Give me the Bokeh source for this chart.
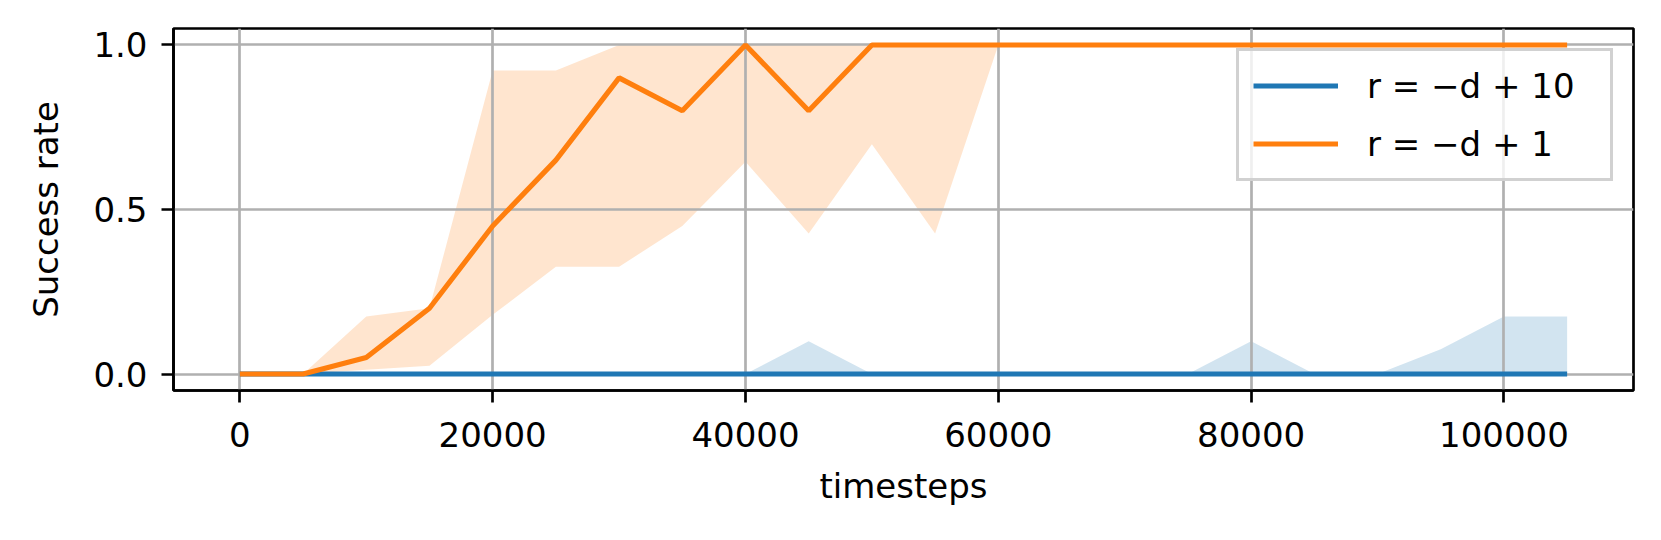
from bokeh.plotting import figure
from bokeh.models import ColumnDataSource, Legend, LegendItem, FixedTicker, Range1d, NumeralTickFormatter
from bokeh.embed import file_html
from bokeh.resources import INLINE

# ---- data ----
timesteps = [0, 5000, 10000, 15000, 20000, 25000, 30000, 35000, 40000, 45000, 50000,
             55000, 60000, 65000, 70000, 75000, 80000, 85000, 90000, 95000, 100000, 105000]

blue_mean = [0.0] * 22
blue_lower = [0.0] * 22
blue_upper = [0.0, 0.0, 0.0, 0.0, 0.0, 0.0, 0.0, 0.0, 0.0, 0.1, 0.0,
              0.0, 0.0, 0.0, 0.0, 0.0, 0.1, 0.0, 0.0, 0.075, 0.175, 0.175]

orange_mean = [0.0, 0.0, 0.05, 0.2, 0.45, 0.65, 0.9, 0.8, 1.0, 0.8, 1.0,
               1.0, 1.0, 1.0, 1.0, 1.0, 1.0, 1.0, 1.0, 1.0, 1.0, 1.0]
orange_lower = [0.0, 0.0, 0.013, 0.025, 0.18, 0.326, 0.326, 0.45, 0.645, 0.427, 0.698,
                0.427, 1.0, 1.0, 1.0, 1.0, 1.0, 1.0, 1.0, 1.0, 1.0, 1.0]
orange_upper = [0.0, 0.0, 0.175, 0.2, 0.922, 0.922, 1.0, 1.0, 1.0, 1.0, 1.0,
                1.0, 1.0, 1.0, 1.0, 1.0, 1.0, 1.0, 1.0, 1.0, 1.0, 1.0]

labels = ["r = \u2212d + 10", "r = \u2212d + 1"]
x_ticks = [0, 20000, 40000, 60000, 80000, 100000]
y_ticks = [0.0, 0.5, 1.0]

BLUE = "#1f77b4"
ORANGE = "#ff7f0e"
FONT = "DejaVu Sans"
FS = "34px"

src = ColumnDataSource(dict(x=timesteps, bm=blue_mean, bl=blue_lower, bu=blue_upper,
                            om=orange_mean, ol=orange_lower, ou=orange_upper))

p = figure(frame_width=1460, frame_height=362, output_backend="svg", toolbar_location=None,
           x_range=Range1d(-5250, 110250), y_range=Range1d(-0.05, 1.05),
           min_border_left=173, min_border_right=12, min_border_top=28, min_border_bottom=130)

p.varea(x="x", y1="bl", y2="bu", source=src, fill_color=BLUE, fill_alpha=0.2, level="image")
lb = p.line(x="x", y="bm", source=src, line_color=BLUE, line_width=5.1)
p.varea(x="x", y1="ol", y2="ou", source=src, fill_color=ORANGE, fill_alpha=0.2, level="image")
lo = p.line(x="x", y="om", source=src, line_color=ORANGE, line_width=5.1)

# axes styling
p.outline_line_color = "black"
p.outline_line_width = 2.7
p.outline_line_alpha = 1.0
for ax in (p.xaxis[0], p.yaxis[0]):
    ax.axis_line_width = 2.7
    ax.axis_line_color = "black"
    ax.major_tick_line_width = 2.7
    ax.major_tick_line_color = "black"
    ax.major_tick_in = 0
    ax.major_tick_out = 12
    ax.minor_tick_line_color = None
    ax.major_label_text_font = FONT
    ax.major_label_text_font_size = FS
    ax.major_label_text_color = "black"
    ax.axis_label_text_font = FONT
    ax.axis_label_text_font_size = FS
    ax.axis_label_text_font_style = "normal"
    ax.axis_label_text_color = "black"

p.xaxis.ticker = FixedTicker(ticks=x_ticks)
p.yaxis.ticker = FixedTicker(ticks=y_ticks)
p.xaxis.formatter = NumeralTickFormatter(format="0")
p.yaxis.formatter = NumeralTickFormatter(format="0.0")
p.xaxis.major_label_standoff = 19
p.yaxis.major_label_standoff = 14
p.xaxis.axis_label = "timesteps"
p.yaxis.axis_label = "Success rate"
p.xaxis.axis_label_standoff = 16
p.yaxis.axis_label_standoff = 24

for g in (p.xgrid[0], p.ygrid[0]):
    g.grid_line_color = "#b0b0b0"
    g.grid_line_width = 2.7
p.xgrid.ticker = FixedTicker(ticks=x_ticks)
p.ygrid.ticker = FixedTicker(ticks=y_ticks)

legend = Legend(items=[LegendItem(label=labels[0], renderers=[lb]),
                       LegendItem(label=labels[1], renderers=[lo])],
                location="top_right", margin=20, padding=14, spacing=17,
                glyph_width=85, glyph_height=41, label_height=41, label_standoff=29,
                label_width=229,
                label_text_font=FONT, label_text_font_size=FS, label_text_color="black",
                border_line_color="#cccccc", border_line_width=3, border_line_alpha=0.9,
                background_fill_color="white", background_fill_alpha=0.8)
p.add_layout(legend)

open("out.html", "w").write(file_html(p, INLINE))
